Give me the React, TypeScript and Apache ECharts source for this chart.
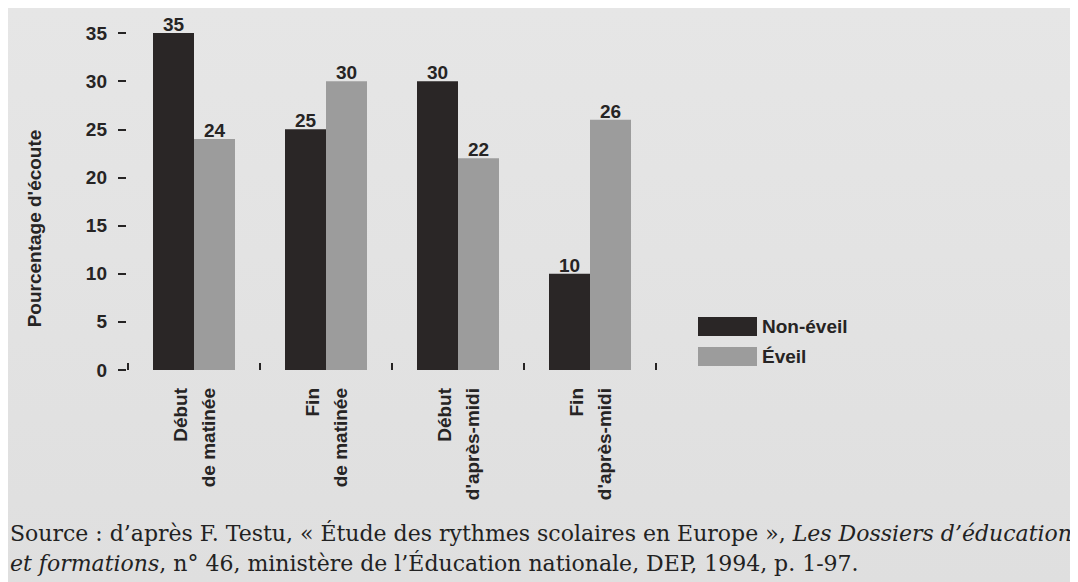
import React, { useEffect, useRef } from "react";
import * as echarts from "echarts";

const categories = ["Début\nde matinée", "Fin\nde matinée", "Début\nd'après-midi", "Fin\nd'après-midi"];
const nonEveil = [35, 25, 30, 10];
const eveil = [24, 30, 22, 26];
const seriesNames = ["Non-éveil", "Éveil"];
const yTitle = "Pourcentage d'écoute";
const sourceLine1 = "Source : d’après F. Testu, « Étude des rythmes scolaires en Europe », {i|Les Dossiers d’éducation}";
const sourceLine2 = "{i|et formations}, n° 46, ministère de l’Éducation nationale, DEP, 1994, p. 1-97.";

const SANS = "'Liberation Sans', Arial, sans-serif";
const SERIF = "'DejaVu Serif', 'Liberation Serif', serif";
const INK = "#262424";

export default function App() {
  const ref = useRef<HTMLDivElement>(null);
  useEffect(() => {
    if (!ref.current) return;
    const chart = echarts.init(ref.current, undefined, { renderer: "svg" });
    chart.setOption({
      animation: false,
      backgroundColor: "transparent",
      title: {
        text: sourceLine1 + "\n" + sourceLine2,
        left: 2,
        top: 510,
        padding: 0,
        textStyle: {
          fontFamily: SERIF,
          fontSize: 22,
          fontWeight: "normal",
          color: "#222",
          lineHeight: 30,
          rich: {
            i: { fontFamily: SERIF, fontSize: 22, fontStyle: "italic", color: "#222", lineHeight: 30 },
          },
        },
      },
      legend: {
        orient: "vertical",
        left: 690,
        top: 309,
        padding: 0,
        itemWidth: 59,
        itemHeight: 19,
        itemGap: 11,
        icon: "rect",
        data: seriesNames,
        textStyle: { fontFamily: SANS, fontSize: 19, fontWeight: "bold", color: INK },
      },
      grid: { left: 120, top: 25, width: 528, height: 337 },
      xAxis: {
        type: "category",
        data: categories,
        axisLine: { show: false },
        axisTick: { show: true, inside: true, length: 7, alignWithLabel: false, interval: 0, lineStyle: { color: INK, width: 2 } },
        axisLabel: {
          rotate: 90,
          interval: 0,
          margin: 18,
          fontFamily: SANS,
          fontSize: 19,
          fontWeight: "bold",
          color: INK,
          lineHeight: 28,
        },
        splitLine: { show: false },
      },
      yAxis: {
        type: "value",
        min: 0,
        max: 35,
        interval: 5,
        offset: 2,
        name: yTitle,
        nameLocation: "middle",
        nameGap: 82,
        nameTextStyle: { fontFamily: SANS, fontSize: 19, fontWeight: "bold", color: INK, padding: [0, 54, 0, 0] },
        axisLine: { show: false },
        axisTick: { show: true, length: 8, lineStyle: { color: INK, width: 2 } },
        axisLabel: { margin: 19, fontFamily: SANS, fontSize: 19, fontWeight: "bold", color: INK },
        splitLine: { show: false },
      },
      series: [
        {
          name: seriesNames[0],
          type: "bar",
          data: nonEveil,
          barWidth: 41,
          barGap: "0%",
          itemStyle: { color: "#2a2626" },
          label: { show: true, position: "top", distance: -1, fontFamily: SANS, fontSize: 19, fontWeight: "bold", color: INK },
        },
        {
          name: seriesNames[1],
          type: "bar",
          data: eveil,
          barWidth: 41,
          barGap: "0%",
          itemStyle: { color: "#9c9c9c" },
          label: { show: true, position: "top", distance: -1, fontFamily: SANS, fontSize: 19, fontWeight: "bold", color: INK },
        },
      ],
    });
    return () => chart.dispose();
  }, []);
  return (
    <div
      ref={ref}
      style={{ width: 1070, height: 574, background: "linear-gradient(180deg, #e6e6e6 0%, #dfdfdf 100%)" }}
    />
  );
}
